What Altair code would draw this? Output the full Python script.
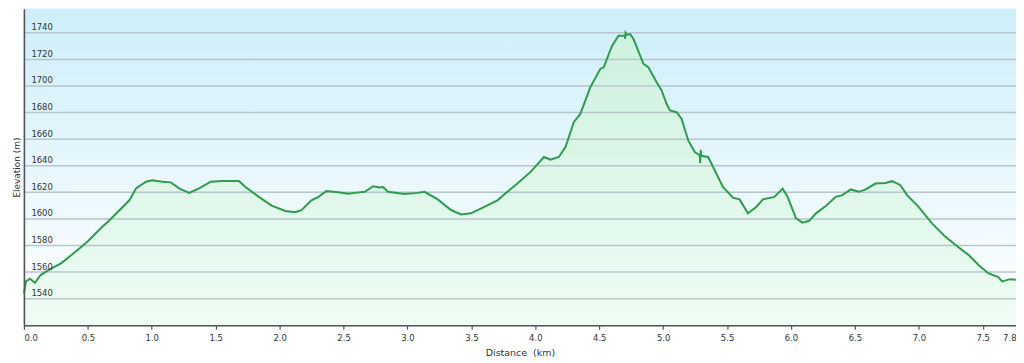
import altair as alt
import pandas as pd

# Elevation profile
dist_km = [0.000, 0.016, 0.047, 0.086, 0.132, 0.202, 0.296, 0.374, 0.436, 0.498,
           0.591, 0.669, 0.825, 0.877, 0.955, 1.004, 1.082, 1.149, 1.214, 1.292,
           1.370, 1.461, 1.549, 1.681, 1.733, 1.837, 1.938, 2.044, 2.122, 2.171,
           2.249, 2.304, 2.366, 2.459, 2.537, 2.589, 2.667, 2.731, 2.783, 2.809,
           2.848, 2.978, 3.082, 3.134, 3.237, 3.341, 3.419, 3.497, 3.601, 3.704,
           3.782, 3.860, 3.963, 4.068, 4.119, 4.184, 4.236, 4.301, 4.352, 4.430,
           4.508, 4.535, 4.599, 4.651, 4.700, 4.703, 4.706, 4.716, 4.742, 4.768,
           4.846, 4.885, 4.949, 4.988, 5.027, 5.053, 5.105, 5.144, 5.196, 5.247,
           5.286, 5.290, 5.294, 5.298, 5.352, 5.468, 5.546, 5.598, 5.663, 5.728,
           5.780, 5.870, 5.935, 5.974, 6.039, 6.091, 6.142, 6.195, 6.272, 6.350,
           6.402, 6.467, 6.531, 6.584, 6.661, 6.739, 6.791, 6.856, 6.908, 6.998,
           7.103, 7.206, 7.310, 7.388, 7.465, 7.543, 7.621, 7.652, 7.714, 7.759]
elev_m = [1544, 1553, 1555, 1552, 1558, 1562, 1567, 1573, 1578, 1583,
          1592, 1599, 1614, 1623, 1628, 1629, 1628, 1627.5, 1623, 1619.6,
          1623, 1628, 1628.5, 1628.5, 1624, 1616.6, 1610, 1606, 1605, 1606.6,
          1614, 1616.6, 1621, 1620, 1619, 1619.6, 1620.4, 1624.6, 1623.7, 1624,
          1620.4, 1618.7, 1619.6, 1620.4, 1614.7, 1606.7, 1603.4, 1604.2, 1609, 1614,
          1620.4, 1626.6, 1635.4, 1646.6, 1644.6, 1646.6, 1654, 1672.8, 1679, 1699,
          1712.8, 1714, 1730, 1737.8, 1738, 1735.5, 1740, 1738.5, 1739, 1735.3,
          1716.6, 1714, 1702.8, 1696.6, 1686.6, 1681.6, 1680.3, 1675.4, 1659.1, 1650.3,
          1647.9, 1642, 1652, 1647.5, 1646.6, 1624, 1616, 1614.7, 1604.2, 1609,
          1614.7, 1616.6, 1622.9, 1616.6, 1600.4, 1597.2, 1598.6, 1604.2, 1609.7, 1616.6,
          1617.9, 1622.2, 1620.4, 1622.2, 1626.6, 1627.1, 1628.4, 1625.4, 1617.9, 1609.1,
          1596.7, 1586.7, 1578.7, 1573, 1565.5, 1559.2, 1556.2, 1553, 1554.7, 1554.2]

y_ticks = [1540, 1560, 1580, 1600, 1620, 1640, 1660, 1680, 1700, 1720, 1740]
x_ticks = [0.0, 0.5, 1.0, 1.5, 2.0, 2.5, 3.0, 3.5, 4.0, 4.5, 5.0, 5.5, 6.0, 6.5, 7.0, 7.5, 7.76]
x_domain = [0, 7.76]
y_domain = [1520, 1758]

df = pd.DataFrame({"d": dist_km, "e": elev_m})
grid_df = pd.DataFrame({"e": y_ticks})

W, H = 997, 318
TXT = "#333333"
AX = "#555555"

xs = alt.Scale(domain=x_domain, nice=False, zero=False)
ys = alt.Scale(domain=y_domain, nice=False, zero=False)

x_axis = alt.Axis(values=x_ticks, labelExpr="format(datum.value, '.1f')",
                  title="Distance\u00a0 (km)", grid=False, labelFlush=True,
                  labelOverlap=False,
                  ticks=True, tickSize=4, tickColor=AX, tickWidth=1.2,
                  domainColor=AX, domainWidth=1.6, labelPadding=4,
                  labelFontSize=8.5, labelColor=TXT, titleFontSize=9.5,
                  titleFontWeight="normal", titleColor=TXT,
                  titleY=30, titleBaseline="alphabetic", zindex=1)
y_axis = alt.Axis(values=y_ticks, format="d", title="Elevation (m)", grid=False,
                  labelOverlap=False,
                  ticks=False, tickSize=0, labelAlign="left", labelPadding=-7,
                  labelOffset=-3, labelBaseline="alphabetic",
                  domainColor=AX, domainWidth=1.6, labelFontSize=8.5,
                  labelColor=TXT, titleFontSize=9, titleFontWeight="normal",
                  titleColor=TXT, titleX=-7.3, titleY=H / 2, titleAngle=270,
                  titleAlign="center", titleBaseline="middle", zindex=1)

X = alt.X("d:Q", scale=xs, axis=x_axis)
Y = alt.Y("e:Q", scale=ys, axis=y_axis)

bg = alt.Chart(pd.DataFrame({"k": [0]})).mark_rect(
    fill=alt.Gradient(gradient="linear", x1=0, x2=0, y1=0, y2=1,
                      stops=[alt.GradientStop(offset=0, color="#cdeefa"),
                             alt.GradientStop(offset=0.75, color="#f4fbfe"),
                             alt.GradientStop(offset=1, color="#ffffff")])
).encode(x=alt.value(0), x2=alt.value(W), y=alt.value(0), y2=alt.value(H))

area = alt.Chart(df).mark_area(
    fill=alt.Gradient(gradient="linear", x1=0, x2=0, y1=0, y2=1,
                      stops=[alt.GradientStop(offset=0, color="#cdf1df"),
                             alt.GradientStop(offset=1, color="#effcf4")])
).encode(x=X, y=Y, y2=alt.datum(1520))

grid = alt.Chart(grid_df).mark_rule(color="#b7c5cc", strokeWidth=1.5).encode(y=Y)

line = alt.Chart(df).mark_line(color="#2f9b4e", strokeWidth=2).encode(x=X, y=Y)

chart = alt.layer(bg, area, grid, line).properties(
    width=W, height=H, autosize="none",
    padding={"left": 16, "top": 0, "right": 0, "bottom": 35}
).configure(font="DejaVu Sans").configure_axis(
    labelOverlap=False
).configure_view(stroke="#c8c8c8", strokeWidth=1)

chart.save("out.html", embed_options={"renderer": "svg", "actions": False})
